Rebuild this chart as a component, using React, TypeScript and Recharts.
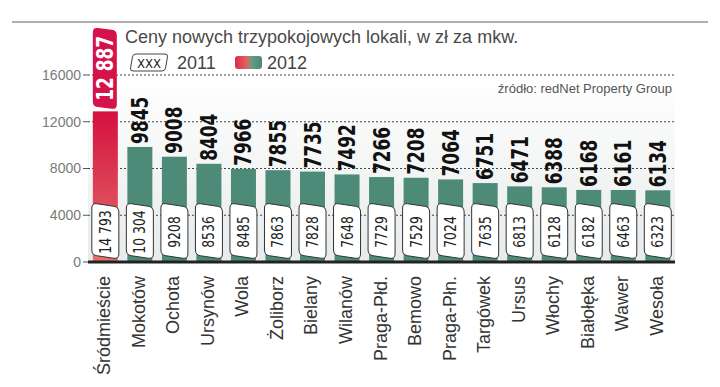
import React from 'react';
import { BarChart, Bar, XAxis, YAxis, CartesianGrid, Cell } from 'recharts';

const districts = [
  'Śródmieście', 'Mokotów', 'Ochota', 'Ursynów', 'Wola', 'Żoliborz', 'Bielany', 'Wilanów',
  'Praga-Płd.', 'Bemowo', 'Praga-Płn.', 'Targówek', 'Ursus', 'Włochy', 'Białołęka', 'Wawer', 'Wesoła',
];
const prices2012 = [12887, 9845, 9008, 8404, 7966, 7855, 7735, 7492, 7266, 7208, 7064, 6751, 6471, 6388, 6168, 6161, 6134];
const prices2011 = [14793, 10304, 9208, 8536, 8485, 7863, 7828, 7648, 7729, 7529, 7024, 7635, 6813, 6128, 6182, 6463, 6323];
const yTicks = [0, 4000, 8000, 12000, 16000];
const barColors = ['url(#redGrad)', ...districts.slice(1).map(() => '#4d8a77')];

const data = districts.map((name, i) => ({ name, v2012: prices2012[i], v2011: prices2011[i] }));

const COND = '"DejaVu Sans Condensed", "Liberation Sans Narrow", sans-serif';
const SANS = '"Liberation Sans", Arial, sans-serif';

const fmt = (v: number) =>
  v >= 10000 ? `${Math.floor(v / 1000)} ${String(v % 1000).padStart(3, '0')}` : String(v);

function roundedPoly(pts: [number, number][], r: number) {
  const n = pts.length;
  const toward = (a: [number, number], b: [number, number], dist: number) => {
    const dx = b[0] - a[0];
    const dy = b[1] - a[1];
    const L = Math.hypot(dx, dy) || 1;
    return [a[0] + (dx / L) * dist, a[1] + (dy / L) * dist];
  };
  let d = '';
  for (let i = 0; i < n; i++) {
    const p = pts[i];
    const prev = pts[(i - 1 + n) % n];
    const next = pts[(i + 1) % n];
    const a = toward(p, prev, r);
    const b = toward(p, next, r);
    d += `${i === 0 ? 'M' : 'L'}${a[0]},${a[1]} Q${p[0]},${p[1]} ${b[0]},${b[1]} `;
  }
  return d + 'Z';
}

const BarShape = (props: any) => {
  const { x, y, width, height, payload, index, fill } = props;
  const cx = x + width / 2;
  const base = y + height;
  const bx0 = x - 1;
  const bx1 = x + width + 1;
  const by0 = base - 59;
  const by1 = base - 3;
  const boxPath = roundedPoly(
    [
      [bx0, by0],
      [bx1, by0 + 4],
      [bx1, by1],
      [bx0, by1 - 4],
    ],
    5
  );
  let topLabel: React.ReactNode;
  if (index === 0) {
    const ly1 = y - 2;
    const ly0 = ly1 - 82;
    const lx0 = x;
    const lx1 = x + width - 1;
    topLabel = (
      <g>
        <path
          d={roundedPoly(
            [
              [lx0, ly0],
              [lx1, ly0 + 3],
              [lx1, ly1],
              [lx0, ly1 - 3],
            ],
            5
          )}
          fill="#d5124a"
        />
        <text
          transform={`translate(${cx},${(ly0 + ly1) / 2}) rotate(-90) scale(0.82,1)`}
          textAnchor="middle"
          y={8}
          fill="#ffffff"
          fontFamily={COND}
          fontWeight="bold"
          fontSize={23}
        >
          {fmt(payload.v2012)}
        </text>
      </g>
    );
  } else {
    topLabel = (
      <text
        transform={`translate(${cx},${y - 3}) rotate(-90) scale(0.82,1)`}
        textAnchor="start"
        y={8}
        fill="#111111"
        fontFamily={COND}
        fontWeight="bold"
        fontSize={23}
      >
        {fmt(payload.v2012)}
      </text>
    );
  }
  return (
    <g>
      <rect x={x} y={y} width={width} height={height} fill={fill} />
      <path d={boxPath} fill="#ffffff" stroke="#333333" strokeWidth={1} />
      <text
        transform={`translate(${cx},${(by0 + by1) / 2 + 1}) rotate(-90) scale(0.92,1)`}
        textAnchor="middle"
        y={5.5}
        fill="#222222"
        fontFamily={COND}
        fontSize={15}
      >
        {fmt(payload.v2011)}
      </text>
      {topLabel}
    </g>
  );
};

const XTick = (props: any) => {
  const { x, y, payload } = props;
  return (
    <g transform={`translate(${x},${y})`}>
      <text
        transform="rotate(-90)"
        x={-6}
        y={5}
        textAnchor="end"
        fill="#333333"
        fontFamily={SANS}
        fontSize={18}
      >
        {payload.value}
      </text>
    </g>
  );
};

export default function App() {
  return (
    <div style={{ position: 'absolute', left: 0, top: 0, width: 720, height: 387, background: '#ffffff' }}>
      <BarChart
        width={720}
        height={387}
        data={data}
        margin={{ top: 75, right: 45, bottom: 15, left: 28 }}
        barCategoryGap="14%"
      >
        <defs>
          <linearGradient id="redGrad" x1="0" y1="0" x2="0" y2="1">
            <stop offset="0%" stopColor="#d5103f" />
            <stop offset="100%" stopColor="#e4716c" />
          </linearGradient>
          <linearGradient id="bgGrad" x1="0" y1="0" x2="0" y2="1">
            <stop offset="0%" stopColor="#ffffff" />
            <stop offset="40%" stopColor="#f6f7f7" />
            <stop offset="100%" stopColor="#e7ebeb" />
          </linearGradient>
        </defs>
        <CartesianGrid
          vertical={false}
          fill="url(#bgGrad)"
          stroke="#444444"
          strokeDasharray="2 2"
        />
        <YAxis
          width={60}
          domain={[0, 16000]}
          ticks={yTicks}
          axisLine={false}
          tickSize={5}
          tickLine={{ stroke: '#555555' }}
          tick={{ fill: '#7a7a7a', fontSize: 14, fontFamily: SANS }}
          interval={0}
        />
        <XAxis
          dataKey="name"
          height={110}
          interval={0}
          tickLine={false}
          axisLine={{ stroke: '#222222', strokeWidth: 3 }}
          tick={<XTick />}
        />
        <Bar dataKey="v2012" isAnimationActive={false} shape={<BarShape />}>
          {data.map((d, i) => (
            <Cell key={d.name} fill={barColors[i]} />
          ))}
        </Bar>
      </BarChart>
      <svg
        width={720}
        height={387}
        style={{ position: 'absolute', left: 0, top: 0, pointerEvents: 'none' }}
      >
        <defs>
          <linearGradient id="legGrad" x1="0" y1="0" x2="1" y2="0">
            <stop offset="0%" stopColor="#e0284a" />
            <stop offset="45%" stopColor="#e0665e" />
            <stop offset="60%" stopColor="#6a9a84" />
            <stop offset="100%" stopColor="#4b8874" />
          </linearGradient>
        </defs>
        <line x1={12} y1={22} x2={708} y2={22} stroke="#b0b0b0" strokeWidth={2} />
        <text x={125} y={43} fill="#4a4a4a" fontFamily={SANS} fontSize={18}>
          Ceny nowych trzypokojowych lokali, w zł za mkw.
        </text>
        <path
          d={roundedPoly(
            [
              [133, 54],
              [168, 54],
              [165, 71],
              [130, 71],
            ],
            3
          )}
          fill="#ffffff"
          stroke="#444444"
          strokeWidth={1}
        />
        <text x={149} y={67.5} textAnchor="middle" fill="#222222" fontFamily={COND} fontSize={13}>
          XXX
        </text>
        <text x={177} y={69} fill="#444444" fontFamily={SANS} fontSize={18}>
          2011
        </text>
        <rect x={235} y={56} width={27} height={13} rx={3} fill="url(#legGrad)" />
        <text x={267} y={69} fill="#444444" fontFamily={SANS} fontSize={18}>
          2012
        </text>
        <text x={672} y={93} textAnchor="end" fill="#555555" fontFamily={SANS} fontSize={13}>
          źródło:  redNet Property Group
        </text>
      </svg>
    </div>
  );
}
